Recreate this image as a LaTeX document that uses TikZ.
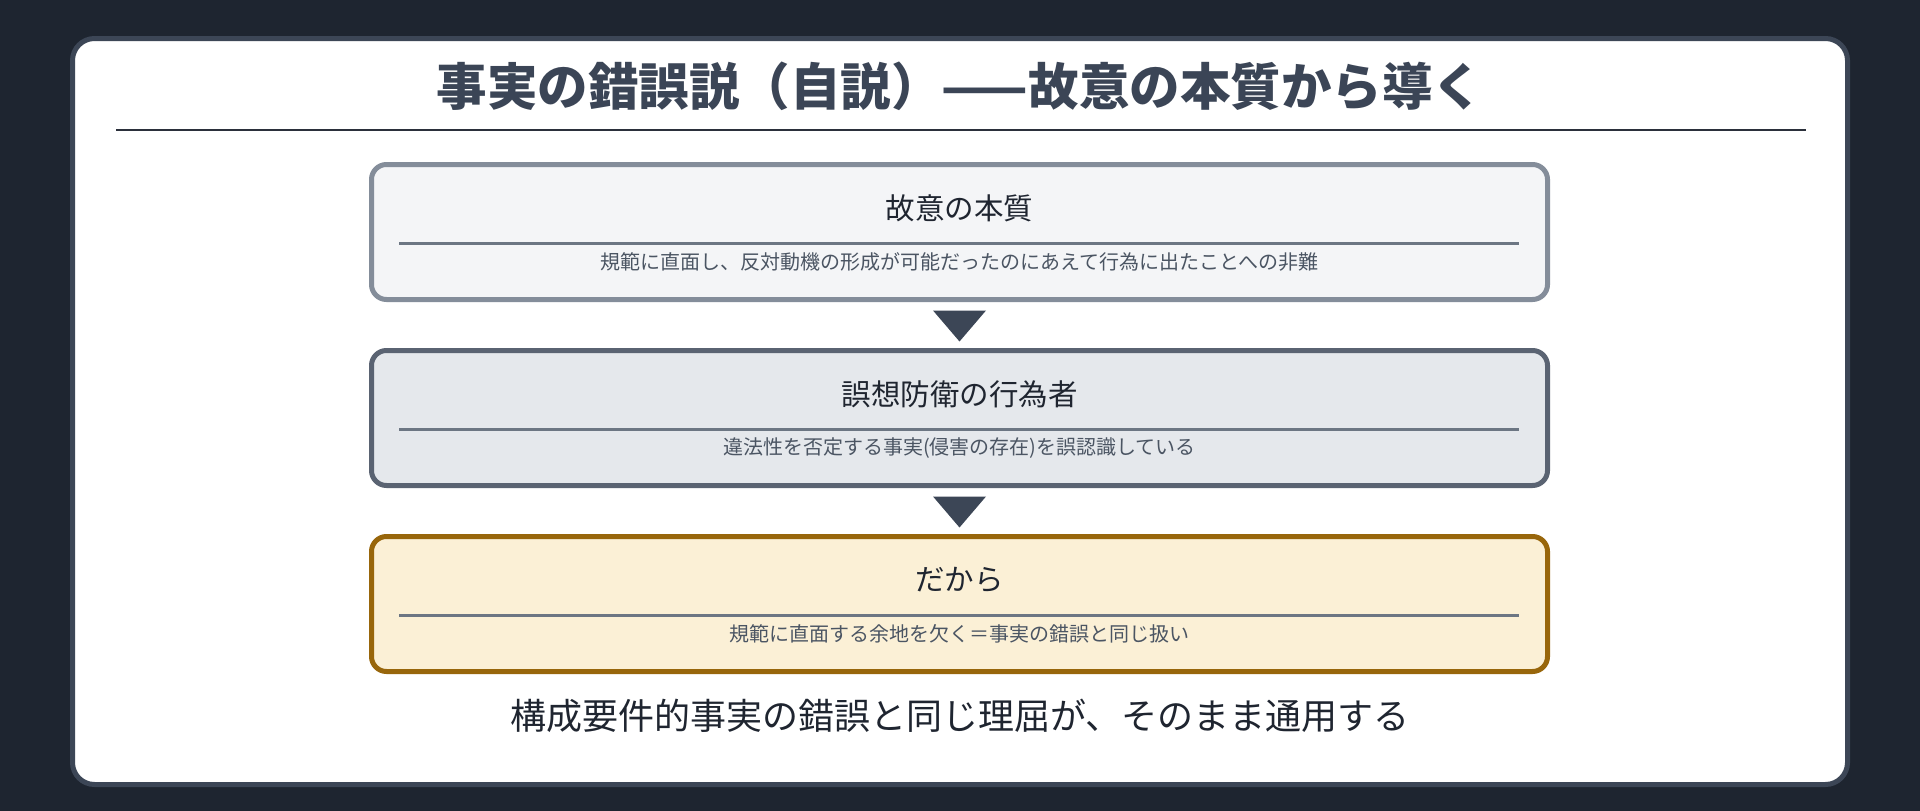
\documentclass[tikz,border=0pt]{standalone}
\usepackage{fontspec}
\setmainfont{Noto Sans CJK JP}
\usetikzlibrary{calc}
\definecolor{bgc}{HTML}{1E2530}
\definecolor{panelc}{HTML}{3C4656}
\definecolor{titlec}{HTML}{3B4556}
\definecolor{rulec}{HTML}{2B303B}
\definecolor{fillA}{HTML}{F4F5F7}
\definecolor{drawA}{HTML}{848D9A}
\definecolor{fillB}{HTML}{E5E8EC}
\definecolor{drawB}{HTML}{5A6372}
\definecolor{fillC}{HTML}{FBF0D6}
\definecolor{drawC}{HTML}{98660B}
\definecolor{divc}{HTML}{6C7683}
\definecolor{arrc}{HTML}{3C4656}
\definecolor{headc}{HTML}{1F2530}
\definecolor{subc}{HTML}{4B5563}
\tikzset{
  stagebox/.style={rectangle, rounded corners=15pt, line width=5pt, minimum width=1176pt, minimum height=135pt, inner sep=0pt},
  headtext/.style={inner sep=0pt, text=headc, font=\fontsize{29.5}{35}\selectfont},
  subtext/.style={inner sep=0pt, text=subc, font=\fontsize{20}{24}\selectfont},
  divline/.style={draw=divc, line width=3pt},
}
\begin{document}
\begin{tikzpicture}[x=1pt,y=-1pt]
\useasboundingbox (0,0) rectangle (1920,811);
\fill[bgc] (0,0) rectangle (1920,811);
\draw[panelc, line width=5pt, fill=white, rounded corners=22pt] (72.5,38.5) rectangle (1847.5,784.5);
\node[inner sep=0pt, text=titlec, font=\fontsize{50.5}{60}\selectfont\bfseries] (title) at (960,86) {事実の錯誤説（自説）——故意の本質から導く};
\coordinate (ruleL) at (116,130);
\coordinate (ruleR) at (1806,130);
\draw[rulec, line width=2.5pt] (ruleL) -- (ruleR);
% boxes
\node[stagebox, draw=drawA, fill=fillA] (b1) at (959.5,232) {};
\node[stagebox, draw=drawB, fill=fillB] (b2) at (959.5,418) {};
\node[stagebox, draw=drawC, fill=fillC] (b3) at (959.5,604) {};
\foreach \b/\h/\s in {b1/故意の本質/規範に直面し、反対動機の形成が可能だったのにあえて行為に出たことへの非難,
                      b2/誤想防衛の行為者/違法性を否定する事実(侵害の存在)を誤認識している,
                      b3/だから/規範に直面する余地を欠く＝事実の錯誤と同じ扱い}{
  \node[headtext] (\b h) at ($(\b.north)+(0,46)$) {\h};
  \coordinate (\b dl) at ($(\b.north west)+(30,81)$);
  \coordinate (\b dr) at ($(\b.north east)+(-31,81)$);
  \draw[divline] (\b dl) -- (\b dr);
  \node[subtext] (\b s) at ($(\b.north)+(0,100)$) {\s};
}
% arrows
\fill[arrc] ($(b1.south)+(-26.5,8.5)$) -- ($(b1.south)+(26.5,8.5)$) -- ($(b1.south)+(0,39.5)$) -- cycle;
\fill[arrc] ($(b2.south)+(-26.5,8.5)$) -- ($(b2.south)+(26.5,8.5)$) -- ($(b2.south)+(0,39.5)$) -- cycle;
\node[inner sep=0pt, text=headc, font=\fontsize{36}{43}\selectfont] (concl) at (960,716) {構成要件的事実の錯誤と同じ理屈が、そのまま通用する};
\end{tikzpicture}
\end{document}
